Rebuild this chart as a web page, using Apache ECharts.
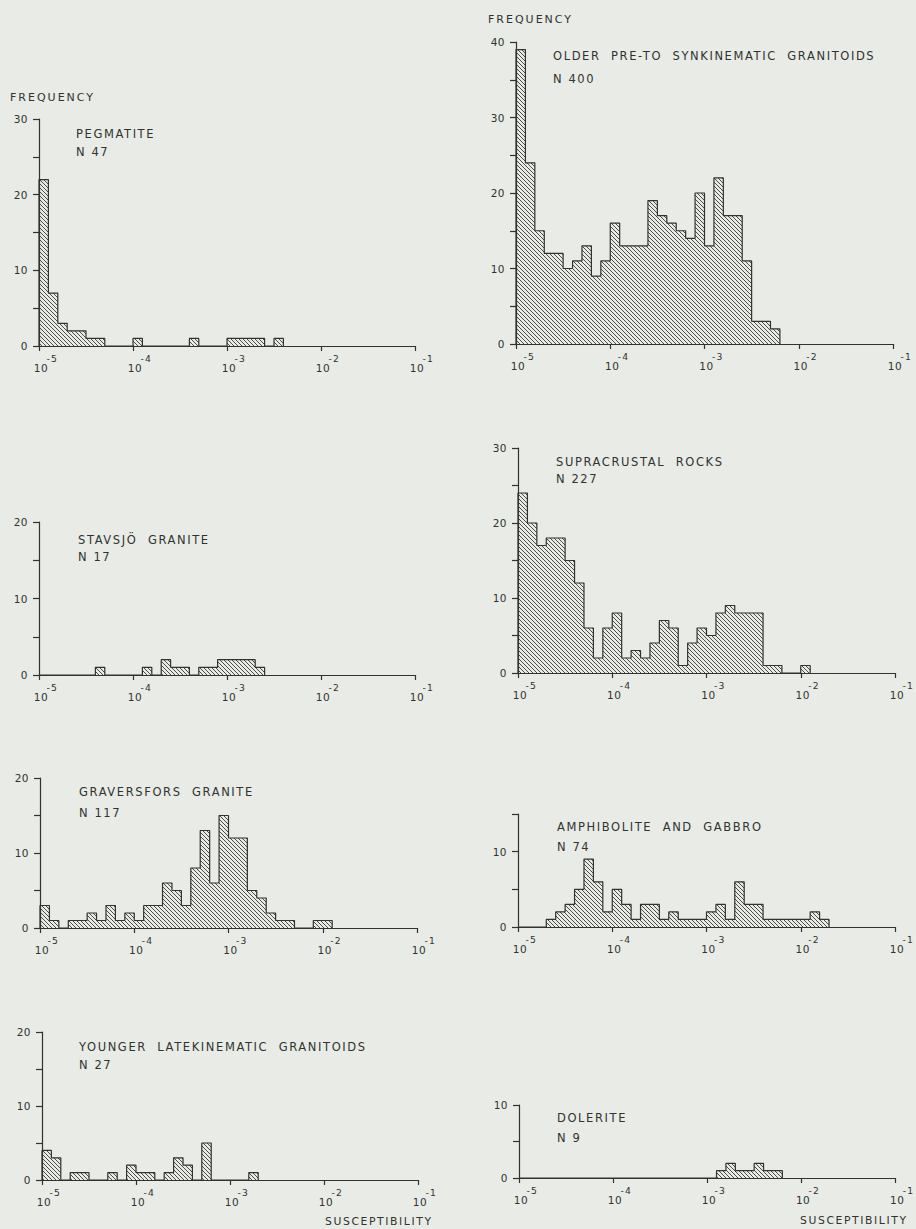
<!DOCTYPE html>
<html><head><meta charset="utf-8">
<script src="https://cdn.jsdelivr.net/npm/echarts@6/dist/echarts.min.js"></script>
<style>
html,body{margin:0;padding:0;background:#e9ebe6;}
#chart{width:916px;height:1229px;}
#chart text[style*="11.5px"]{letter-spacing:1.6px;}
#chart text[style*="11px"]{letter-spacing:2px;}
#chart text[style*="10.8px"]{letter-spacing:1.6px;}
#chart text[style*="10.5px"]{letter-spacing:0.5px;}
#chart text[style*="9.2px"]{letter-spacing:1.2px;}
</style></head><body><div id="chart"></div>
<script>
// Histogram bins: 10 bins per decade, first bin starts at 1e-5
const BIN_START_EXP = -5;
const BINS_PER_DECADE = 10;
const X_TICK_EXPONENTS = [-5, -4, -3, -2, -1];

const pegmatite    = [22,7,3,2,2,1,1,0,0,0,1,0,0,0,0,0,1,0,0,0,1,1,1,1,0,1];
const older        = [39,24,15,12,12,10,11,13,9,11,16,13,13,13,19,17,16,15,14,20,13,22,17,17,11,3,3,2];
const stavsjo      = [0,0,0,0,0,0,1,0,0,0,0,1,0,2,1,1,0,1,1,2,2,2,2,1];
const supracrustal = [24,20,17,18,18,15,12,6,2,6,8,2,3,2,4,7,6,1,4,6,5,8,9,8,8,8,1,1,0,0,1];
const graversfors  = [3,1,0,1,1,2,1,3,1,2,1,3,3,6,5,3,8,13,6,15,12,12,5,4,2,1,1,0,0,1,1];
const amphibolite  = [0,0,0,1,2,3,5,9,6,2,5,3,1,3,3,1,2,1,1,1,2,3,1,6,3,3,1,1,1,1,1,2,1];
const younger      = [4,3,0,1,1,0,0,1,0,2,1,1,0,1,3,2,0,5,0,0,0,0,1];
const dolerite     = [0,0,0,0,0,0,0,0,0,0,0,0,0,0,0,0,0,0,0,0,0,1,2,1,1,2,1,1];

const names   = ['PEGMATITE','OLDER  PRE-TO  SYNKINEMATIC  GRANITOIDS','STAVSJÖ  GRANITE','SUPRACRUSTAL  ROCKS','GRAVERSFORS  GRANITE','AMPHIBOLITE  AND  GABBRO','YOUNGER  LATEKINEMATIC  GRANITOIDS','DOLERITE'];
const nLabels = ['N 47','N 400','N 17','N 227','N 117','N 74','N 27','N 9'];
const datasets = [pegmatite, older, stavsjo, supracrustal, graversfors, amphibolite, younger, dolerite];
const yMaxes  = [30, 40, 20, 30, 20, 15, 20, 10];

// layout (pixels)
const layout = [
  {grid:{left:39,  top:119,  width:376, height:227}, t:[76,134],  n:[76,152]},
  {grid:{left:516, top:42,   width:377, height:302}, t:[553,56],  n:[553,79]},
  {grid:{left:39,  top:522,  width:376, height:153}, t:[78,540],  n:[78,557]},
  {grid:{left:518, top:448,  width:377, height:225}, t:[556,462], n:[556,479]},
  {grid:{left:40,  top:778,  width:377, height:150}, t:[79,792],  n:[79,813]},
  {grid:{left:518, top:814,  width:377, height:113}, t:[557,827], n:[557,847]},
  {grid:{left:42,  top:1032, width:376, height:148}, t:[79,1047], n:[79,1065]},
  {grid:{left:519, top:1105, width:377, height:73},  t:[557,1118],n:[557,1138]}
];

const INK = '#2f342f';
const FONT = 'DejaVu Sans';

function binEdge(i){ return Math.pow(10, BIN_START_EXP + i / BINS_PER_DECADE); }
function stepData(counts){
  const pts = [[binEdge(0), 0]];
  counts.forEach((c, i) => pts.push([binEdge(i), c]));
  pts.push([binEdge(counts.length), 0]);
  return pts;
}

// hatch pattern "\\\\"
const pc = document.createElement('canvas');
pc.width = 4; pc.height = 4;
const pctx = pc.getContext('2d');
pctx.fillStyle = 'rgba(55,60,55,0.9)';
for (let i = 0; i < 4; i++) pctx.fillRect(i, i, 1, 1);
const hatch = {image: pc, repeat: 'repeat', imageWidth: 4, imageHeight: 4};

const grids = [], xAxes = [], yAxes = [], series = [], graphics = [];
datasets.forEach((counts, k) => {
  grids.push(layout[k].grid);
  xAxes.push({
    type: 'log', logBase: 10, min: Math.pow(10, X_TICK_EXPONENTS[0]), max: Math.pow(10, X_TICK_EXPONENTS[X_TICK_EXPONENTS.length-1]),
    gridIndex: k,
    axisLine: {show: true, onZero: false, lineStyle: {color: INK, width: 1.2}},
    axisTick: {show: true, length: 5, lineStyle: {color: INK, width: 1.2}},
    minorTick: {show: false}, splitLine: {show: false}, minorSplitLine: {show: false},
    axisLabel: {
      show: true, margin: 8, showMinLabel: true, showMaxLabel: true,
      formatter: v => '{b|10}{s|' + Math.round(Math.log10(v)) + '}',
      padding: [0, 0, 0, 13],
      rich: {
        b: {fontSize: 10.5, fontFamily: FONT, color: INK, lineHeight: 19, verticalAlign: 'bottom'},
        s: {fontSize: 9.2, fontFamily: FONT, color: INK, lineHeight: 19, verticalAlign: 'top'}
      }
    }
  });
  yAxes.push({
    type: 'value', min: 0, max: yMaxes[k], interval: 5, gridIndex: k,
    axisLine: {show: true, lineStyle: {color: INK, width: 1.2}},
    axisTick: {show: true, length: 6, lineStyle: {color: INK, width: 1.2}},
    splitLine: {show: false},
    axisLabel: {margin: 11, fontSize: 10.5, fontFamily: FONT, color: INK,
      formatter: v => (v % 10 === 0 ? String(v) : '')}
  });
  series.push({
    type: 'line', xAxisIndex: k, yAxisIndex: k, step: 'end', showSymbol: false, symbol: 'none',
    data: stepData(counts), clip: false,
    lineStyle: {color: INK, width: 1.2},
    areaStyle: {color: hatch, opacity: 1, origin: 'start'},
    silent: true
  });
  graphics.push({type: 'text', x: layout[k].t[0], y: layout[k].t[1],
    style: {text: names[k], fill: INK, font: '11.5px "' + FONT + '"', verticalAlign: 'middle'}});
  graphics.push({type: 'text', x: layout[k].n[0], y: layout[k].n[1],
    style: {text: nLabels[k], fill: INK, font: '11.5px "' + FONT + '"', verticalAlign: 'middle'}});
});

graphics.push({type: 'text', x: 10, y: 97, style: {text: 'FREQUENCY', fill: INK, font: '11px "' + FONT + '"', verticalAlign: 'middle'}});
graphics.push({type: 'text', x: 488, y: 19, style: {text: 'FREQUENCY', fill: INK, font: '11px "' + FONT + '"', verticalAlign: 'middle'}});
graphics.push({type: 'text', x: 325, y: 1221, style: {text: 'SUSCEPTIBILITY', fill: INK, font: '10.8px "' + FONT + '"', verticalAlign: 'middle'}});
graphics.push({type: 'text', x: 800, y: 1220, style: {text: 'SUSCEPTIBILITY', fill: INK, font: '10.8px "' + FONT + '"', verticalAlign: 'middle'}});

const chart = echarts.init(document.getElementById('chart'), null, {renderer: 'svg'});
chart.setOption({
  backgroundColor: '#e9ebe6',
  animation: false,
  grid: grids, xAxis: xAxes, yAxis: yAxes, series: series,
  graphic: graphics
});
</script></body></html>
